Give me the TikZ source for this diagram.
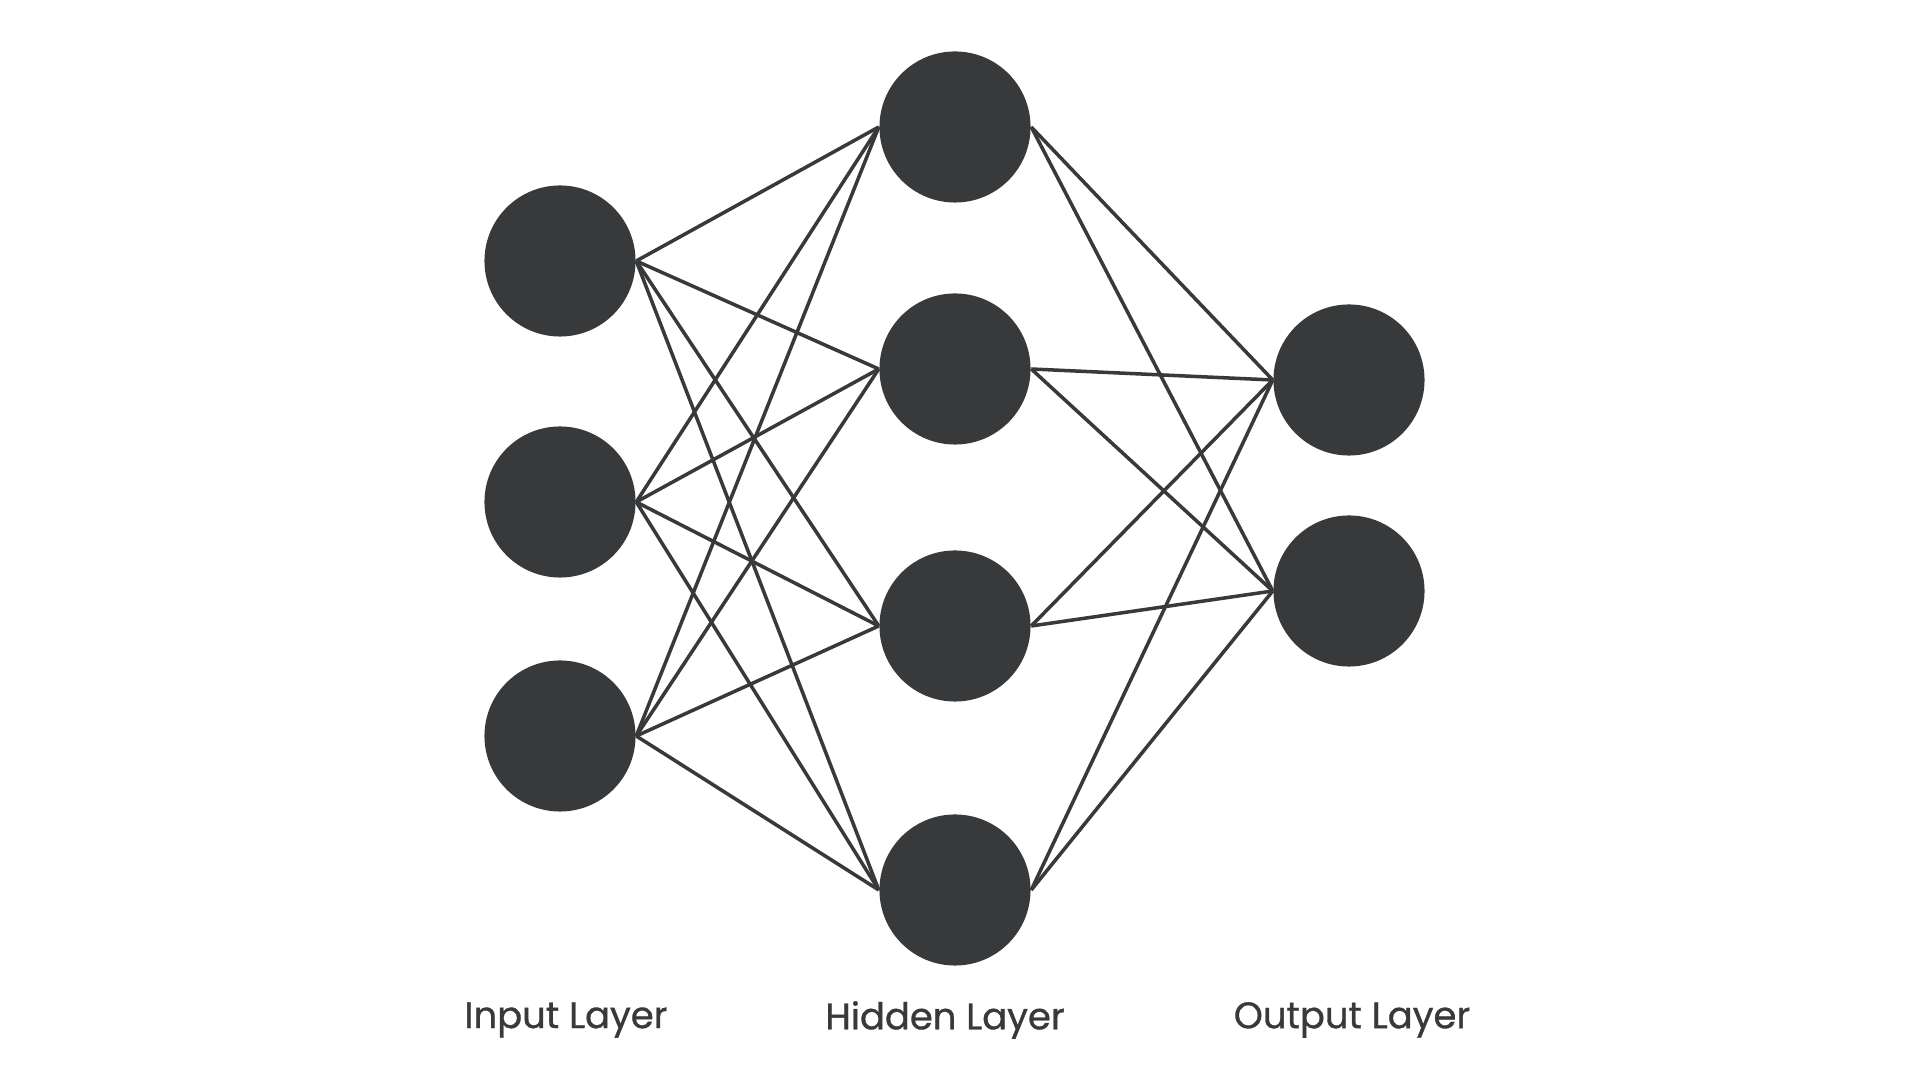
\documentclass[tikz,border=0pt]{standalone}
\usepackage{fontspec}
\setmainfont{Poppins}
\newfontfamily\labelfont[FakeBold=0.9]{Poppins}
\definecolor{netgray}{RGB}{56,57,59}
\usepackage{tikz}
\usetikzlibrary{positioning}

\tikzset{
  neuron/.style={circle,fill=netgray,draw=none,minimum size=1.51cm,inner sep=0pt},
  synapse/.style={netgray,line width=1pt},
  layerlabel/.style={netgray,font=\labelfont\fontsize{10.5pt}{12pt}\selectfont,anchor=center}
}

\begin{document}
\begin{tikzpicture}[x=0.01cm,y=-0.01cm]
\useasboundingbox (0,0) rectangle (1920,1080);
% input layer
\node[neuron] (in1) at (560,261) {};
\node[neuron] (in2) at (560,502) {};
\node[neuron] (in3) at (560,736) {};
% hidden layer
\node[neuron] (hid1) at (955,127) {};
\node[neuron] (hid2) at (955,369) {};
\node[neuron] (hid3) at (955,626) {};
\node[neuron] (hid4) at (955,890) {};
% output layer
\node[neuron] (out1) at (1349,380) {};
\node[neuron] (out2) at (1349,591) {};
% connections
\foreach \i in {1,2,3}
  \foreach \j in {1,2,3,4}
    \draw[synapse] (in\i.east) -- (hid\j.west);
\foreach \j in {1,2,3,4}
  \foreach \k in {1,2}
    \draw[synapse] (hid\j.east) -- (out\k.west);
% labels
\node[layerlabel] (lin) at (566,1020) {Input Layer};
\node[layerlabel] (lhid) at (945,1020) {Hidden Layer};
\node[layerlabel] (lout) at (1352,1020) {Output Layer};
\end{tikzpicture}
\end{document}
